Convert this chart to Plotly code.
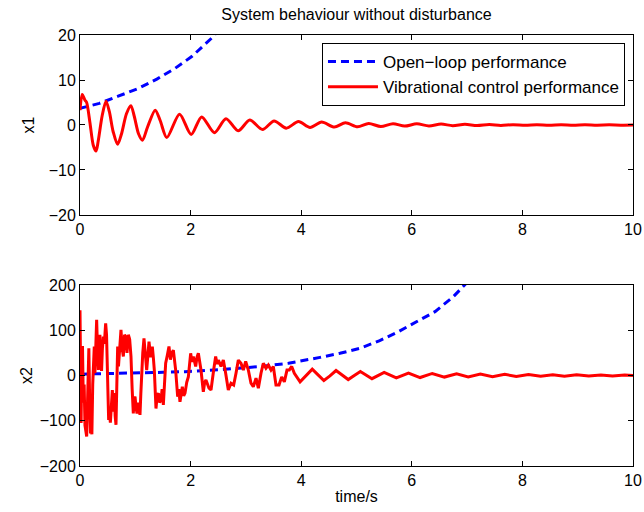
import plotly.graph_objects as go

# ---------------- data ----------------
# x1 open-loop (blue dashed)
t1_open = [0.0, 0.35, 0.69, 1.05, 1.39, 1.72, 2.02, 2.38, 2.50]
x1_open = [3.7, 4.8, 6.4, 8.1, 10.2, 12.6, 15.2, 19.3, 21.0]

# x1 vibrational control (red)
t1_ctrl = [0.00, 0.04, 0.09, 0.12, 0.18, 0.24, 0.29, 0.33, 0.40, 0.47, 0.53, 0.60,
           0.68, 0.75, 0.84, 0.92, 0.98, 1.06, 1.13, 1.22, 1.36, 1.45, 1.57, 1.80,
           2.01, 2.20, 2.43, 2.64, 2.86, 3.07, 3.30, 3.51, 3.73, 3.95, 4.16, 4.37,
           4.60, 4.80, 5.02, 5.22, 5.44, 5.66, 5.87, 6.09, 6.31, 6.53, 6.74, 6.96,
           7.18, 7.40, 7.61, 7.83, 8.05, 8.26, 8.48, 8.70, 8.92, 9.13, 9.35, 9.57,
           9.78, 10.0]
x1_ctrl = [3.3, 6.8, 5.5, 5.0, 0.5, -4.5, -5.8, -3.5, 2.0, 5.3, 3.0, -1.5,
           -4.3, -2.0, 2.5, 4.3, 2.0, -2.0, -3.4, -0.5, 3.3, 1.0, -2.8, 2.4,
           -2.1, 1.8, -1.7, 1.4, -1.3, 1.1, -1.0, 0.9, -0.7, 0.75, -0.55, 0.65,
           -0.45, 0.5, -0.4, 0.35, -0.35, 0.3, -0.25, 0.25, -0.2, 0.2, -0.15, 0.15,
           -0.12, 0.1, -0.1, 0.08, -0.08, 0.06, -0.06, 0.05, -0.05, 0.04, -0.04, 0.03,
           -0.03, 0.0]

# x2 open-loop (blue dashed)
t2_open = [0.0, 0.5, 1.0, 1.5, 1.9, 2.62, 3.22, 3.77, 4.34, 4.70, 5.06, 5.42,
           5.76, 6.09, 6.42, 6.75, 6.90, 7.05]
x2_open = [3, 4, 5, 7, 8.5, 13.6, 19.5, 27, 40, 49, 60, 77,
           97, 119, 141, 174, 193, 212]

# x2 vibrational control (red)
t2_ctrl = [0.000, 0.010, 0.020, 0.032, 0.045, 0.060, 0.075, 0.090, 0.105, 0.121,
           0.140, 0.160, 0.175, 0.190, 0.205, 0.215, 0.230, 0.245, 0.258, 0.270,
           0.285, 0.301, 0.316, 0.332, 0.346, 0.360, 0.375, 0.390, 0.405, 0.422,
           0.440, 0.464, 0.480, 0.494, 0.506, 0.518, 0.532, 0.549, 0.567, 0.585,
           0.603, 0.621, 0.636, 0.651, 0.666, 0.681, 0.696, 0.711, 0.726, 0.741,
           0.762, 0.784, 0.805, 0.826, 0.850, 0.874, 0.898, 0.922, 0.943, 0.964,
           0.980, 0.995, 1.013, 1.031, 1.058, 1.085, 1.100, 1.115, 1.135, 1.157,
           1.180, 1.206, 1.228, 1.248, 1.278, 1.308, 1.326, 1.344, 1.374, 1.395,
           1.417, 1.440, 1.465, 1.485, 1.507, 1.549, 1.580, 1.609, 1.635, 1.658,
           1.688, 1.710, 1.730, 1.766, 1.786, 1.808, 1.850, 1.875, 1.899, 1.930,
           1.959, 2.001, 2.025, 2.049, 2.092, 2.115, 2.140, 2.188, 2.230, 2.255,
           2.278, 2.333, 2.369, 2.417, 2.453, 2.480, 2.502, 2.550, 2.592, 2.634,
           2.682, 2.731, 2.779, 2.821, 2.863, 2.911, 2.954, 2.996, 3.044, 3.092,
           3.134, 3.183, 3.225, 3.273, 3.315, 3.363, 3.406, 3.454, 3.496, 3.544,
           3.599, 3.647, 3.695, 3.743, 3.785, 3.828, 3.876, 3.980, 4.090, 4.200,
           4.300, 4.410, 4.520, 4.630, 4.740, 4.850, 4.960, 5.070, 5.280, 5.500,
           5.720, 5.940, 6.150, 6.370, 6.590, 6.810, 7.020, 7.240, 7.460, 7.680,
           7.890, 8.110, 8.330, 8.550, 8.760, 8.980, 9.200, 9.420, 9.630, 9.850,
           10.000]
x2_ctrl = [144, -60, -105, 40, 65, -60, -20, -110, -125, -135,
           -40, 60, -60, -128, -110, -130, -20, 60, 64, 5,
           70, 123, 60, 12, 70, 90, 30, 10, 60, 86,
           70, 115, 90, 42, -40, -98, -80, -104, -60, -32,
           -80, -39, -90, -109, -20, 64, 20, 42, 80, 101,
           60, 42, 90, 86, 50, 90, 80, 42, -30, -84,
           -50, -47, -70, -84, -60, -87, -40, 12, 50, 82,
           40, 12, 45, 75, 40, 64, 40, 12, -73, -45,
           -39, -60, -54, -30, -65, 27, 45, 64, 35, 49,
           56, 30, 12, -47, -30, -58, -25, -45, -39, -15,
           -3, 49, 30, 42, 20, 40, 49, 12, -36, -15,
           -10, -28, -32, 12, 42, 25, 34, 20, 34, 5,
           -32, -17, -21, 5, 34, 27, 12, 31, 12, -17,
           -25, -6, -28, 5, 27, 16, 23, 12, 20, -21,
           -21, -3, -14, 12, 12, 20, 5, -14, 0, 14,
           2, -11, -1, 11, 1, -9, 0, 9, -7, 7,
           -5.5, 5.5, -4.5, 4.5, -3.5, 3.5, -3, 3, -2.5, 2.5,
           -2, 2, -1.8, 1.8, -1.5, 1.5, -1.2, 1.2, -1, 1,
           0]

x_ticks = [0, 2, 4, 6, 8, 10]
y1_ticks = [-20, -10, 0, 10, 20]
y2_ticks = [-200, -100, 0, 100, 200]

title_text = "System behaviour without disturbance"
name_open = "Open\u2212loop performance"
name_ctrl = "Vibrational control performance"

# ---------------- figure ----------------
BLUE = "#0000FF"
RED = "#FF0000"
FONT = "Liberation Sans, Arial, Helvetica, sans-serif"

fig = go.Figure()
fig.add_trace(go.Scatter(x=t1_open, y=x1_open, mode="lines", name=name_open,
                         line=dict(color=BLUE, width=3, dash="8px,5px"),
                         xaxis="x", yaxis="y"))
fig.add_trace(go.Scatter(x=t1_ctrl, y=x1_ctrl, mode="lines", name=name_ctrl,
                         line=dict(color=RED, width=3, shape="spline", smoothing=0.8),
                         xaxis="x", yaxis="y"))
fig.add_trace(go.Scatter(x=t2_open, y=x2_open, mode="lines", showlegend=False,
                         line=dict(color=BLUE, width=3, dash="8px,5px"),
                         xaxis="x2", yaxis="y2"))
fig.add_trace(go.Scatter(x=t2_ctrl, y=x2_ctrl, mode="lines", showlegend=False,
                         line=dict(color=RED, width=3),
                         xaxis="x2", yaxis="y2"))

axis_common = dict(showline=True, linecolor="black", linewidth=1, mirror="allticks",
                   ticks="inside", ticklen=5, tickcolor="black", showgrid=False,
                   zeroline=False, tickfont=dict(size=16, color="black", family=FONT),
                   automargin=False)

fig.update_layout(
    width=644, height=512,
    margin=dict(l=80, r=11, t=35, b=46),
    paper_bgcolor="white", plot_bgcolor="white",
    font=dict(family=FONT, color="black", size=16),
    title=dict(text=title_text, x=0.5, xref="paper", xanchor="center",
               y=1 - 14 / 512, yanchor="middle", yref="container",
               font=dict(size=16, color="black", family=FONT)),
    xaxis=dict(domain=[0, 1], anchor="y", range=[0, 10], tickvals=x_ticks, **axis_common),
    yaxis=dict(domain=[0.5824, 1], anchor="x", range=[-20, 20], tickvals=y1_ticks,
               title=dict(text="x1", standoff=10, font=dict(size=16)), **axis_common),
    xaxis2=dict(domain=[0, 1], anchor="y2", range=[0, 10], tickvals=x_ticks,
                title=dict(text="time/s", standoff=2, font=dict(size=16)), **axis_common),
    yaxis2=dict(domain=[0, 0.42], anchor="x2", range=[-200, 200], tickvals=y2_ticks,
                title=dict(text="x2", standoff=3, font=dict(size=16)), **axis_common),
    showlegend=True,
    legend=dict(x=0.9855, y=0.9814, xanchor="right", yanchor="top",
                bgcolor="white", bordercolor="black", borderwidth=1,
                font=dict(size=17, color="black", family=FONT),
                tracegroupgap=0, itemwidth=50),
)

fig.write_html("out.html", config={"displayModeBar": False},
               post_script="document.body.style.margin='0';")
